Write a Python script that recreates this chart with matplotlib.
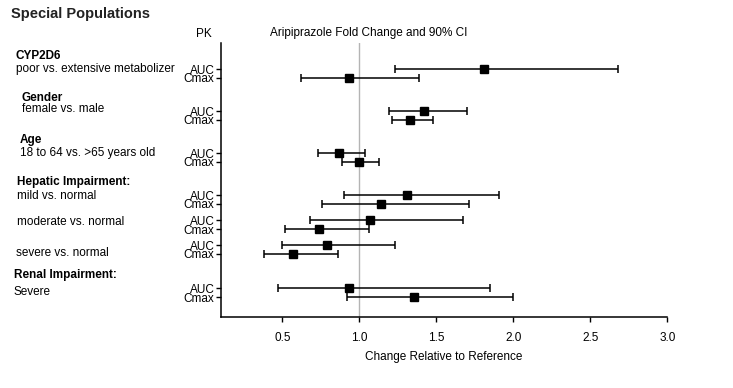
import matplotlib
matplotlib.use('Agg')
import matplotlib.pyplot as plt
from matplotlib.transforms import blended_transform_factory
import numpy as np

plt.rcParams['font.family'] = ['Liberation Sans', 'DejaVu Sans']

# Data: fold change (point estimate) and 90% CI, AUC and Cmax per comparison
comparisons = ['CYP2D6', 'Gender', 'Age', 'Hepatic mild', 'Hepatic moderate',
               'Hepatic severe', 'Renal severe']
auc_est = [1.81, 1.42, 0.87, 1.31, 1.07, 0.79, 0.93]
auc_lo = [1.23, 1.19, 0.73, 0.90, 0.68, 0.50, 0.47]
auc_hi = [2.68, 1.70, 1.04, 1.91, 1.675, 1.23, 1.85]
cmax_est = [0.93, 1.33, 1.00, 1.14, 0.74, 0.57, 1.355]
cmax_lo = [0.62, 1.21, 0.89, 0.76, 0.52, 0.38, 0.92]
cmax_hi = [1.39, 1.48, 1.13, 1.71, 1.065, 0.86, 2.00]

headers = ['CYP2D6', 'Gender', 'Age', 'Hepatic Impairment:', '', '', 'Renal Impairment:']
descriptions = ['poor vs. extensive metabolizer', 'female vs. male',
                '18 to 64 vs. >65 years old', 'mild vs. normal',
                'moderate vs. normal', 'severe vs. normal', 'Severe']

# layout: vertical gaps between row groups (in pixel-like units)
gaps = [69.3, 42, 42, 42, 25, 25, 43]
auc_y = np.cumsum(gaps)
cmax_y = auc_y + 8.7

fig = plt.figure(figsize=(7.33, 3.88), dpi=100)
ax = fig.add_axes([220.7 / 733, 71 / 388, (667.3 - 220.7) / 733, (317 - 43.3) / 388])

ax.axvline(1.0, color='#b4b4b4', lw=1.0, zorder=1)

err_kw = dict(fmt='s', color='black', ms=6, capsize=3, elinewidth=1.1,
              capthick=1.1, zorder=3)
ax.errorbar(auc_est, auc_y,
            xerr=[np.array(auc_est) - np.array(auc_lo), np.array(auc_hi) - np.array(auc_est)],
            **err_kw)
ax.errorbar(cmax_est, cmax_y,
            xerr=[np.array(cmax_est) - np.array(cmax_lo), np.array(cmax_hi) - np.array(cmax_est)],
            **err_kw)

ax.set_xlim(0.1, 3.0)
ax.set_ylim(317, 43.3)
ax.set_xticks([0.5, 1.0, 1.5, 2.0, 2.5, 3.0])
ax.set_xticklabels(['0.5', '1.0', '1.5', '2.0', '2.5', '3.0'], fontsize=8.5)
ax.set_xlabel('Change Relative to Reference', fontsize=8.5, labelpad=5)

yt = np.concatenate([auc_y, cmax_y])
ax.set_yticks(yt)
ax.set_yticklabels(['AUC'] * len(auc_y) + ['Cmax'] * len(cmax_y), fontsize=8.5)
ax.tick_params(axis='y', length=3.5, width=1, pad=1, direction='out')
ax.tick_params(axis='x', length=3.5, width=1, pad=7, direction='out')

ax.spines['top'].set_visible(False)
ax.spines['right'].set_visible(False)
for s in ['left', 'bottom']:
    ax.spines[s].set_linewidth(1.1)

# left-hand labels
trans = blended_transform_factory(fig.transFigure, ax.transData)
head_x = [16, 21.5, 20, 17, 17, 17, 14]
desc_x = [16, 21.5, 20, 17, 17, 16, 14]
desc_dy = [0, -2, 0, 0.7, 1.4, 7.4, 3.4]
for i in range(len(comparisons)):
    if headers[i]:
        ax.text(head_x[i] / 733, auc_y[i] - 13.5, headers[i], transform=trans,
                fontsize=8.5, fontweight='bold', va='center', ha='left')
    ax.text(desc_x[i] / 733, auc_y[i] + desc_dy[i], descriptions[i], transform=trans,
            fontsize=8.5, va='center', ha='left')

fig.text(11 / 733, 1 - 14 / 388, 'Special Populations', fontsize=10.5,
         fontweight='bold', color='#222222', va='center', ha='left')
fig.text(204 / 733, 1 - 34 / 388, 'PK', fontsize=8.5, va='center', ha='center')
fig.text(369 / 733, 1 - 33 / 388, 'Aripiprazole Fold Change and 90% CI',
         fontsize=8.5, va='center', ha='center')

plt.savefig('out.png', dpi=100)
